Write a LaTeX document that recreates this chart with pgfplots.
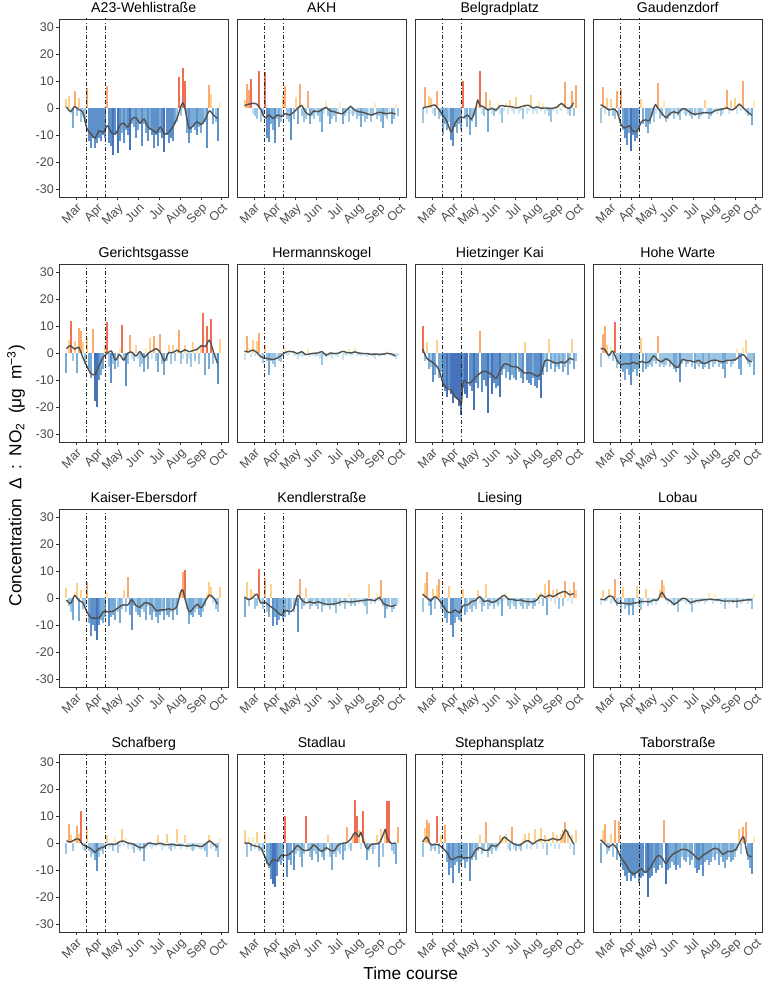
\documentclass[border=0pt]{standalone}
\usepackage{pgfplots}
\pgfplotsset{compat=1.18}
\usepackage{pgfplotstable}
\usepgfplotslibrary{groupplots}
\usetikzlibrary{calc}
\usepackage{fontspec}
\setmainfont{Liberation Sans}

\definecolor{lincol}{RGB}{80,80,80}
\definecolor{ca}{RGB}{50,100,180}
\definecolor{cb}{RGB}{76,132,196}
\definecolor{cc}{RGB}{106,162,211}
\definecolor{cd}{RGB}{146,192,226}
\definecolor{ce}{RGB}{196,226,241}
\definecolor{cf}{RGB}{255,233,168}
\definecolor{cg}{RGB}{253,204,128}
\definecolor{ch}{RGB}{250,160,95}
\definecolor{ci}{RGB}{238,95,65}
\pgfplotsset{
  vl/.style={color=black!85, line width=0.8pt, dash pattern=on 3pt off 1.6pt on 0.8pt off 1.6pt},
}

% ---------- bar (daily deviation) data ----------
\pgfplotstableread[row sep=\\]{d v\\ -14 3.5\\ -11 4.4\\ -8 -2\\ -5 -7.4\\ -2 6.5\\ 1 -3\\ 4 3.8\\ 7 -5\\ 10 -3\\ 13 -5\\ 16 7.6\\ 19 -12\\ 22 -14.8\\ 25 -11\\ 28 -14.8\\ 31 -13\\ 34 -11\\ 37 -12\\ 40 -10\\ 43 -11\\ 46 8.4\\ 49 -13\\ 52 -14\\ 55 -17.2\\ 58 -10\\ 61 -16.6\\ 64 -12\\ 67 -9\\ 70 -13\\ 73 -8\\ 76 -10\\ 79 -15.4\\ 82 -6\\ 85 -7\\ 88 -11\\ 91 -8\\ 94 -6\\ 97 -14.1\\ 100 -6\\ 103 -9\\ 106 -12\\ 109 -8\\ 112 -10\\ 115 -14.8\\ 118 -10\\ 121 -14.1\\ 124 -9\\ 127 -11\\ 130 -16\\ 133 -10\\ 136 -13\\ 139 -11\\ 142 -12\\ 145 -6\\ 148 -5\\ 151 11.7\\ 154 -3\\ 157 14.9\\ 160 10.2\\ 163 -9\\ 166 -12.9\\ 169 -9\\ 172 -7\\ 175 -8\\ 178 -10\\ 181 -7\\ 184 -9\\ 187 -6\\ 190 -5\\ 193 -14.8\\ 196 8.7\\ 199 5.4\\ 202 -6\\ 205 -5\\ 208 -12\\ 211 2\\}\barsA
\pgfplotstableread[row sep=\\]{d v\\ -14 3\\ -11 8.8\\ -8 6.6\\ -5 10.9\\ -2 -2\\ 1 -3\\ 4 -4\\ 7 13.9\\ 10 -5\\ 13 -3\\ 16 13.3\\ 19 -11\\ 22 -12.3\\ 25 -6\\ 28 -8\\ 31 -12.9\\ 34 -4\\ 37 -7\\ 40 -5\\ 43 4.8\\ 46 8.2\\ 49 -4\\ 52 -5\\ 55 -11.7\\ 58 -4\\ 61 4\\ 64 -6\\ 67 8.9\\ 70 -3\\ 73 -5\\ 76 -4\\ 79 6.5\\ 82 -6\\ 85 -3\\ 88 -4\\ 91 -2\\ 94 -3\\ 97 -5\\ 100 -8.7\\ 103 -2\\ 106 2.5\\ 109 -3\\ 112 -6\\ 115 -4\\ 118 -3\\ 121 -5\\ 124 -2\\ 127 2\\ 130 -6\\ 133 -3\\ 136 -2\\ 139 -5\\ 142 -2\\ 145 -3\\ 148 -2\\ 151 -4\\ 154 -3\\ 157 -6.8\\ 160 -3\\ 163 -5\\ 166 -4\\ 169 -2\\ 172 -5\\ 175 -3\\ 178 2\\ 181 -4\\ 184 -3\\ 187 -5\\ 190 -7.4\\ 193 -3\\ 196 -4\\ 199 -2\\ 202 -6\\ 205 -4\\ 208 1.5\\ 211 -3\\}\barsB
\pgfplotstableread[row sep=\\]{d v\\ -14 -5.6\\ -11 7.7\\ -8 -2\\ -5 4.5\\ -2 3.8\\ 1 -2\\ 4 -3\\ 7 6.2\\ 10 -4\\ 13 -3\\ 16 -9.9\\ 19 -6\\ 22 -8\\ 25 -5\\ 28 -11.7\\ 31 -13.9\\ 34 -7\\ 37 -9\\ 40 -6\\ 43 -8\\ 46 10\\ 49 -4\\ 52 -7\\ 55 -9.9\\ 58 -5\\ 61 -3\\ 64 -7\\ 67 2\\ 70 13.9\\ 73 -2\\ 76 -3\\ 79 6\\ 82 -8.7\\ 85 3\\ 88 -2\\ 91 -3\\ 94 -1.5\\ 97 2\\ 100 -2\\ 103 -5.6\\ 106 -1\\ 109 2\\ 112 -2\\ 115 3\\ 118 -1\\ 121 -2\\ 124 4\\ 127 -2\\ 130 -1\\ 133 -4\\ 136 1.5\\ 139 -2\\ 142 -1\\ 145 4.8\\ 148 -2\\ 151 -1\\ 154 -2\\ 157 2.5\\ 160 -1\\ 163 1.8\\ 166 -2\\ 169 -1\\ 172 -3\\ 175 -5\\ 178 -1\\ 181 1\\ 184 -2\\ 187 1.5\\ 190 -1\\ 193 2\\ 196 9.6\\ 199 -2\\ 202 -3\\ 205 6.2\\ 208 -3\\ 211 8.7\\}\barsC
\pgfplotstableread[row sep=\\]{d v\\ -14 -5.6\\ -11 7.8\\ -8 -2\\ -5 3.8\\ -2 -3\\ 1 3.5\\ 4 -3\\ 7 -4\\ 10 6.2\\ 13 -3\\ 16 7.2\\ 19 -8\\ 22 -11\\ 25 -13.5\\ 28 -9\\ 31 -15.7\\ 34 -10\\ 37 -12\\ 40 -11\\ 43 -8\\ 46 3.5\\ 49 -6\\ 52 -7\\ 55 -9.3\\ 58 -6\\ 61 -3\\ 64 -5\\ 67 -2\\ 70 9.3\\ 73 -4\\ 76 -3\\ 79 2.5\\ 82 -5\\ 85 -4\\ 88 -3\\ 91 -2\\ 94 -4\\ 97 -2\\ 100 -3\\ 103 -4.5\\ 106 -1\\ 109 -2\\ 112 -3\\ 115 -2\\ 118 -3\\ 121 -4\\ 124 -3\\ 127 -2\\ 130 -4\\ 133 -3\\ 136 -2\\ 139 3\\ 142 -2\\ 145 -4\\ 148 -3\\ 151 -2\\ 154 -1\\ 157 -2\\ 160 -1\\ 163 -3\\ 166 -2\\ 169 1\\ 172 6.6\\ 175 -2\\ 178 3\\ 181 -1\\ 184 3.8\\ 187 -2\\ 190 2\\ 193 -1\\ 196 9.9\\ 199 -2\\ 202 -3\\ 205 -2\\ 208 -6.2\\ 211 2.8\\}\barsD
\pgfplotstableread[row sep=\\]{d v\\ -14 -7.2\\ -11 5\\ -8 11.8\\ -5 -3\\ -2 4.5\\ 1 -7.4\\ 4 9.3\\ 7 8.4\\ 10 4\\ 13 -4\\ 16 5.5\\ 19 -6\\ 22 -9\\ 25 8.8\\ 28 -17.8\\ 31 -19.9\\ 34 -10\\ 37 -8\\ 40 -6\\ 43 3\\ 46 11.7\\ 49 -5\\ 52 -11.1\\ 55 -4\\ 58 -6\\ 61 -5\\ 64 2\\ 67 10.5\\ 70 -3\\ 73 -12\\ 76 -4\\ 79 6.6\\ 82 -2\\ 85 -3\\ 88 3\\ 91 -2\\ 94 -5\\ 97 -4\\ 100 -7\\ 103 2\\ 106 -6\\ 109 5.6\\ 112 -2\\ 115 6.2\\ 118 -3\\ 121 -7\\ 124 7.2\\ 127 -4\\ 130 -8\\ 133 -3\\ 136 3\\ 139 -4\\ 142 3\\ 145 -3\\ 148 2\\ 151 8.7\\ 154 -4\\ 157 -2\\ 160 3\\ 163 -4\\ 166 -2\\ 169 -5\\ 172 4\\ 175 -3\\ 178 2\\ 181 -4\\ 184 3\\ 187 14.8\\ 190 -8\\ 193 10.2\\ 196 -6\\ 199 12.7\\ 202 -4\\ 205 -2\\ 208 -11.3\\ 211 5.1\\}\barsE
\pgfplotstableread[row sep=\\]{d v\\ -14 -2.5\\ -11 6.2\\ -8 2\\ -5 -1.5\\ -2 5\\ 1 -1\\ 4 4.4\\ 7 7.4\\ 10 -2\\ 13 -3.5\\ 16 3\\ 19 -3\\ 22 -8\\ 25 -3\\ 28 -4\\ 31 -5\\ 34 -2\\ 37 -3\\ 40 -3.2\\ 43 1\\ 46 2.5\\ 49 -1\\ 52 -0.5\\ 55 1\\ 58 -1\\ 61 -0.5\\ 64 -2\\ 67 -1\\ 70 -1.5\\ 73 -1\\ 76 -0.5\\ 79 2\\ 82 -1.5\\ 85 -0.5\\ 88 -1\\ 91 -1.5\\ 94 -1\\ 97 -2\\ 100 -4.4\\ 103 -1\\ 106 -1.5\\ 109 -0.5\\ 112 -1\\ 115 -2\\ 118 -0.5\\ 121 -1\\ 124 -1.5\\ 127 1\\ 130 -2.5\\ 133 -0.5\\ 136 -1\\ 139 1.5\\ 142 -1\\ 145 -0.5\\ 148 2.5\\ 151 -1\\ 154 -0.5\\ 157 -1\\ 160 -0.5\\ 163 -1\\ 166 -1.5\\ 169 -0.5\\ 172 -1\\ 175 -1.5\\ 178 -2\\ 181 -0.5\\ 184 -1.5\\ 187 -1\\ 190 -0.5\\ 193 -1\\ 196 1\\ 199 -0.5\\ 202 -1\\ 205 -1.5\\ 208 -2.3\\ 211 -1\\}\barsF
\pgfplotstableread[row sep=\\]{d v\\ -14 10.2\\ -11 -3\\ -8 4\\ -5 -6\\ -2 -5\\ 1 -10.5\\ 4 -8\\ 7 4.8\\ 10 -9\\ 13 -7\\ 16 -12.3\\ 19 -14\\ 22 -16\\ 25 -13\\ 28 -15\\ 31 -18.4\\ 34 -16\\ 37 -17\\ 40 -19.6\\ 43 -22.7\\ 46 -13\\ 49 -15\\ 52 -16.5\\ 55 -12\\ 58 -14\\ 61 -20.9\\ 64 -11\\ 67 -13\\ 70 8.4\\ 73 -14.5\\ 76 -10\\ 79 -12\\ 82 -22\\ 85 -9\\ 88 -15\\ 91 -11\\ 94 -13\\ 97 -12\\ 100 -16\\ 103 -8\\ 106 -6\\ 109 -9\\ 112 -7\\ 115 -10\\ 118 -8\\ 121 -9\\ 124 -10\\ 127 -7\\ 130 -9\\ 133 -11\\ 136 4\\ 139 -10\\ 142 -11\\ 145 -11.7\\ 148 -9\\ 151 -12\\ 154 -13\\ 157 -10\\ 160 -16.6\\ 163 -8\\ 166 -5\\ 169 -7\\ 172 5.1\\ 175 -6\\ 178 -4\\ 181 -7\\ 184 -5\\ 187 -6\\ 190 -4\\ 193 -7\\ 196 -5\\ 199 -8\\ 202 -4\\ 205 5.1\\ 208 -6\\ 211 -3\\}\barsG
\pgfplotstableread[row sep=\\]{d v\\ -14 -5\\ -11 7\\ -8 9.9\\ -5 3\\ -2 -2\\ 1 2.5\\ 4 -3\\ 7 11.5\\ 10 -5.5\\ 13 -4\\ 16 -6\\ 19 -7\\ 22 -9.9\\ 25 -6\\ 28 -8\\ 31 -11.7\\ 34 -7\\ 37 -6\\ 40 -8.5\\ 43 -6\\ 46 5.7\\ 49 -7\\ 52 -6\\ 55 -5\\ 58 -4.5\\ 61 -5\\ 64 -3\\ 67 -4\\ 70 6.5\\ 73 -5\\ 76 -4\\ 79 -5\\ 82 -4.5\\ 85 -3\\ 88 -5\\ 91 -4\\ 94 -6\\ 97 -7\\ 100 -5\\ 103 -10.5\\ 106 -4\\ 109 -3\\ 112 -5\\ 115 -4\\ 118 -3\\ 121 -5\\ 124 -6\\ 127 -4\\ 130 -5\\ 133 -4\\ 136 -6\\ 139 -5\\ 142 -4\\ 145 -6\\ 148 -3\\ 151 -5\\ 154 -4\\ 157 -3\\ 160 -5\\ 163 -4\\ 166 -6\\ 169 -9.3\\ 172 -4\\ 175 -3\\ 178 -5\\ 181 -4\\ 184 -3\\ 187 2\\ 190 -6\\ 193 -8\\ 196 2.5\\ 199 5\\ 202 -4\\ 205 -5\\ 208 -3\\ 211 -8\\}\barsH
\pgfplotstableread[row sep=\\]{d v\\ -14 3.9\\ -11 -3\\ -8 -5\\ -5 -7.9\\ -2 2.5\\ 1 5.7\\ 4 -8.3\\ 7 3\\ 10 -4\\ 13 -3\\ 16 6.1\\ 19 -9.1\\ 22 -14\\ 25 -10\\ 28 -12\\ 31 -15.6\\ 34 -10\\ 37 -8\\ 40 -9\\ 43 -7\\ 46 2.5\\ 49 -10.4\\ 52 -7\\ 55 -6\\ 58 -8\\ 61 -5\\ 64 -9\\ 67 -4\\ 70 3\\ 73 -5\\ 76 7.9\\ 79 -6\\ 82 -11.6\\ 85 -3\\ 88 -5\\ 91 -6\\ 94 -7\\ 97 -4\\ 100 -5\\ 103 -8\\ 106 -3\\ 109 -6\\ 112 -8\\ 115 -5\\ 118 -7\\ 121 -9.1\\ 124 -6\\ 127 -5\\ 130 -8\\ 133 -6\\ 136 -7\\ 139 -5\\ 142 -8\\ 145 -4\\ 148 -6\\ 151 2.5\\ 154 3\\ 157 9.8\\ 160 10.6\\ 163 -4\\ 166 -9.5\\ 169 -6\\ 172 -7\\ 175 -5\\ 178 -4\\ 181 -6\\ 184 -7\\ 187 -5\\ 190 -3\\ 193 2\\ 196 5.9\\ 199 4\\ 202 -2\\ 205 -4\\ 208 -5\\ 211 4.1\\}\barsI
\pgfplotstableread[row sep=\\]{d v\\ -14 -7.1\\ -11 5.9\\ -8 -3\\ -5 3.5\\ -2 2.5\\ 1 -4\\ 4 -3\\ 7 10.7\\ 10 -2\\ 13 -4\\ 16 7.1\\ 19 -5\\ 22 -7\\ 25 5.1\\ 28 -10.4\\ 31 -7\\ 34 -10\\ 37 -8\\ 40 -6\\ 43 -8\\ 46 -7\\ 49 -5\\ 52 -6\\ 55 -4\\ 58 -5\\ 61 -3\\ 64 -12.6\\ 67 7.2\\ 70 -4\\ 73 -3\\ 76 3.7\\ 79 -2\\ 82 -4\\ 85 -3\\ 88 -2\\ 91 -3\\ 94 -4\\ 97 -2\\ 100 -5\\ 103 -3\\ 106 -2\\ 109 -3\\ 112 -4\\ 115 -2\\ 118 -3\\ 121 -5.5\\ 124 -2\\ 127 -3\\ 130 -2\\ 133 -4\\ 136 -2\\ 139 2\\ 142 -3\\ 145 -2\\ 148 -3\\ 151 -1\\ 154 -2\\ 157 -1.5\\ 160 -2\\ 163 -3\\ 166 -5.9\\ 169 5.4\\ 172 -2\\ 175 -1\\ 178 -2\\ 181 2\\ 184 -1\\ 187 6.7\\ 190 -3\\ 193 -7.3\\ 196 -4\\ 199 -3\\ 202 -5\\ 205 -4\\ 208 -3\\ 211 -2\\}\barsJ
\pgfplotstableread[row sep=\\]{d v\\ -14 -4.9\\ -11 5.7\\ -8 9.8\\ -5 -3\\ -2 -6.1\\ 1 3.5\\ 4 -4\\ 7 4.9\\ 10 7.3\\ 13 -4\\ 16 -5\\ 19 -7.3\\ 22 -9.1\\ 25 4.5\\ 28 -10\\ 31 -14.4\\ 34 -9\\ 37 -7\\ 40 -8\\ 43 -8.5\\ 46 3.5\\ 49 -6\\ 52 -5\\ 55 -4\\ 58 -5\\ 61 -3\\ 64 -4\\ 67 3\\ 70 -2\\ 73 -5\\ 76 -3\\ 79 5.2\\ 82 -4\\ 85 -3\\ 88 -2\\ 91 -4\\ 94 -2\\ 97 -3\\ 100 -2\\ 103 -6.7\\ 106 -1\\ 109 2\\ 112 -3\\ 115 -4\\ 118 -2\\ 121 -3\\ 124 -4\\ 127 -2\\ 130 -3\\ 133 -4\\ 136 -2\\ 139 -4\\ 142 -3\\ 145 -2\\ 148 -4\\ 151 -3\\ 154 2\\ 157 -2\\ 160 2.5\\ 163 -3\\ 166 5.4\\ 169 -6.1\\ 172 6.7\\ 175 -1\\ 178 3\\ 181 -2\\ 184 3.5\\ 187 -4\\ 190 2\\ 193 -3\\ 196 6.3\\ 199 -1\\ 202 3\\ 205 -2\\ 208 6\\ 211 3\\}\barsK
\pgfplotstableread[row sep=\\]{d v\\ -14 -2.5\\ -11 3\\ -8 -1.5\\ -5 -1\\ -2 3.5\\ 1 -2\\ 4 -1.5\\ 7 7.3\\ 10 -3\\ 13 -2\\ 16 -5.5\\ 19 4\\ 22 -4\\ 25 -3\\ 28 -6.2\\ 31 -3\\ 34 -6\\ 37 -2.5\\ 40 4.5\\ 43 -3\\ 46 -4.5\\ 49 -2\\ 52 3.5\\ 55 -3\\ 58 -2\\ 61 -2.5\\ 64 -1.5\\ 67 -2.5\\ 70 -1\\ 73 3\\ 76 6.6\\ 79 5\\ 82 -1\\ 85 -2\\ 88 -1.5\\ 91 -2.5\\ 94 -3\\ 97 -2\\ 100 -4.9\\ 103 -1\\ 106 -1.5\\ 109 -1\\ 112 -2\\ 115 -1.5\\ 118 -2.5\\ 121 -5.1\\ 124 -2\\ 127 -1\\ 130 -2\\ 133 -1.5\\ 136 -1\\ 139 -2\\ 142 -1.5\\ 145 2\\ 148 -1\\ 151 -2\\ 154 1.5\\ 157 -1.5\\ 160 -1\\ 163 -2\\ 166 -1.5\\ 169 -3.9\\ 172 -1.5\\ 175 -2\\ 178 -1\\ 181 -2\\ 184 -1.5\\ 187 -3.5\\ 190 -1\\ 193 -2\\ 196 -1.5\\ 199 -1\\ 202 -2\\ 205 -1\\ 208 -4.1\\ 211 1.5\\}\barsL
\pgfplotstableread[row sep=\\]{d v\\ -14 -4\\ -11 7.3\\ -8 3\\ -5 -3\\ -2 2.5\\ 1 6.3\\ 4 3.5\\ 7 12.1\\ 10 -2.5\\ 13 -3\\ 16 5.7\\ 19 -3\\ 22 -5.2\\ 25 -4\\ 28 -6\\ 31 -10.1\\ 34 -5\\ 37 -3\\ 40 -4\\ 43 -2\\ 46 3\\ 49 -2\\ 52 -1.5\\ 55 -3\\ 58 2.5\\ 61 -3.5\\ 64 -1.5\\ 67 5.4\\ 70 -1\\ 73 2\\ 76 -2\\ 79 -1\\ 82 -2\\ 85 -3.5\\ 88 -1.5\\ 91 -2.5\\ 94 -3\\ 97 -2\\ 100 -6.5\\ 103 -2\\ 106 -1\\ 109 -1.5\\ 112 -2\\ 115 -1\\ 118 -1.5\\ 121 3\\ 124 -1\\ 127 -2.5\\ 130 -1.5\\ 133 3.5\\ 136 -2\\ 139 -3\\ 142 -1.5\\ 145 -2\\ 148 5.4\\ 151 -1.5\\ 154 -2\\ 157 -1\\ 160 3\\ 163 -2\\ 166 -1.5\\ 169 -2.5\\ 172 -3\\ 175 -2\\ 178 -1.5\\ 181 -2\\ 184 -2.5\\ 187 -2\\ 190 -3\\ 193 -5.2\\ 196 3\\ 199 -2\\ 202 -1.5\\ 205 -3\\ 208 -5.2\\ 211 2\\}\barsM
\pgfplotstableread[row sep=\\]{d v\\ -14 5.1\\ -11 -5.2\\ -8 2.5\\ -5 -3\\ -2 2.5\\ 1 -2\\ 4 4\\ 7 -3\\ 10 -2.5\\ 13 -3\\ 16 4\\ 19 -7.7\\ 22 -9\\ 25 -13.2\\ 28 -15\\ 31 -16.2\\ 34 -12\\ 37 -7\\ 40 -8\\ 43 -6\\ 46 10.2\\ 49 -12.6\\ 52 -6\\ 55 -8\\ 58 -10\\ 61 -4\\ 64 -3\\ 67 -5\\ 70 -8.9\\ 73 -4\\ 76 10\\ 79 -3\\ 82 -5\\ 85 -6\\ 88 -3\\ 91 -4\\ 94 -7\\ 97 -3\\ 100 -5\\ 103 -6\\ 106 -3\\ 109 3\\ 112 -5\\ 115 -9.8\\ 118 -4\\ 121 -5\\ 124 -3\\ 127 -4\\ 130 -6\\ 133 -3\\ 136 6\\ 139 -2\\ 142 -3\\ 145 3\\ 148 16.1\\ 151 10\\ 154 5\\ 157 -2\\ 160 11.8\\ 163 2\\ 166 -6\\ 169 -3\\ 172 -2\\ 175 -4\\ 178 -2\\ 181 3\\ 184 -8.9\\ 187 5.4\\ 190 -5\\ 193 4\\ 196 15.5\\ 199 15.5\\ 202 -3\\ 205 -4\\ 208 -7.7\\ 211 6\\}\barsN
\pgfplotstableread[row sep=\\]{d v\\ -14 -5.1\\ -11 5.7\\ -8 8.5\\ -5 7.4\\ -2 -3\\ 1 -2\\ 4 -3\\ 7 10.1\\ 10 -4\\ 13 3\\ 16 -3\\ 19 6.6\\ 22 -7\\ 25 -11.6\\ 28 -9\\ 31 -14.6\\ 34 -8\\ 37 -7\\ 40 -10.9\\ 43 -8\\ 46 -6\\ 49 -9\\ 52 -7\\ 55 -13.8\\ 58 -6\\ 61 -5\\ 64 -6\\ 67 -3\\ 70 3\\ 73 -4\\ 76 -3\\ 79 7.9\\ 82 -5\\ 85 -3\\ 88 -4\\ 91 -2\\ 94 -3\\ 97 -2\\ 100 3\\ 103 2\\ 106 2.5\\ 109 3.5\\ 112 -2\\ 115 -3\\ 118 6\\ 121 -2\\ 124 -3\\ 127 -2\\ 130 -3\\ 133 2\\ 136 3.5\\ 139 -2\\ 142 3.8\\ 145 -2\\ 148 -1\\ 151 5.4\\ 154 -2\\ 157 2\\ 160 5.5\\ 163 -2\\ 166 3\\ 169 -4.3\\ 172 2\\ 175 -1\\ 178 4\\ 181 -2\\ 184 3\\ 187 -2\\ 190 3.5\\ 193 5\\ 196 8\\ 199 4.5\\ 202 -2\\ 205 3\\ 208 -4.3\\ 211 5.1\\}\barsO
\pgfplotstableread[row sep=\\]{d v\\ -14 -7.2\\ -11 5\\ -8 7.2\\ -5 -4\\ -2 -3\\ 1 3.5\\ 4 -5\\ 7 8.7\\ 10 -6\\ 13 8.3\\ 16 -8\\ 19 -10\\ 22 -12\\ 25 -13.9\\ 28 -11\\ 31 -14\\ 34 -12\\ 37 -13\\ 40 -11\\ 43 -14.5\\ 46 -13\\ 49 -12\\ 52 -11\\ 55 -19.8\\ 58 -13\\ 61 -12\\ 64 -9\\ 67 -11\\ 70 -10\\ 73 -8\\ 76 -9\\ 79 8.7\\ 82 -15.1\\ 85 -10\\ 88 -9\\ 91 -7\\ 94 -8\\ 97 -10\\ 100 -8\\ 103 -9\\ 106 -5\\ 109 -6\\ 112 -7\\ 115 -5\\ 118 -8\\ 121 -6\\ 124 -9\\ 127 -11\\ 130 -10\\ 133 -8\\ 136 -12.1\\ 139 -7\\ 142 -6\\ 145 -8\\ 148 -7\\ 151 -5\\ 154 -6\\ 157 -4\\ 160 -8\\ 163 -5\\ 166 -7\\ 169 -9\\ 172 -6\\ 175 -5\\ 178 -7\\ 181 -6\\ 184 -5\\ 187 -3\\ 190 5.4\\ 193 -4\\ 196 6.2\\ 199 8\\ 202 -6\\ 205 -9\\ 208 -11.5\\ 211 2.5\\}\barsP

% ---------- smoothed line data ----------
\pgfplotstableread[row sep=\\]{d v\\ -14 0.5\\ -8 -1.2\\ -2 0.6\\ 4 -0.5\\ 10 -1.5\\ 16 -7.5\\ 22 -9.5\\ 28 -11\\ 34 -8.3\\ 40 -9\\ 46 -6.5\\ 52 -9\\ 58 -9.5\\ 64 -6.5\\ 70 -5.5\\ 76 -7\\ 82 -4\\ 88 -3.5\\ 94 -5.5\\ 100 -4\\ 106 -7\\ 112 -8\\ 118 -9\\ 124 -7\\ 130 -9.5\\ 136 -9\\ 142 -7\\ 148 -4\\ 154 0.5\\ 157 2\\ 160 0\\ 166 -7.2\\ 172 -6.5\\ 178 -5\\ 184 -6\\ 190 -4\\ 196 -1\\ 202 -2.5\\ 208 -3.8\\}\lineA
\pgfplotstableread[row sep=\\]{d v\\ -14 1\\ -8 1.5\\ -2 1.8\\ 4 1.5\\ 10 -0.5\\ 16 -3.5\\ 22 -2.5\\ 28 -3.8\\ 34 -2.5\\ 40 -3\\ 46 -2\\ 52 -2.5\\ 58 -1.5\\ 64 0\\ 70 1\\ 76 -1.5\\ 82 -2.5\\ 88 -1\\ 94 -1.3\\ 100 -0.5\\ 106 0.3\\ 112 -1\\ 118 -1.3\\ 124 -1.8\\ 130 -2\\ 136 -0.7\\ 142 0.7\\ 148 -0.7\\ 154 -1.3\\ 160 -1.5\\ 166 -2\\ 172 -2.5\\ 178 -2\\ 184 -1.5\\ 190 -1.8\\ 196 -2\\ 202 -1.7\\ 208 -2.2\\}\lineB
\pgfplotstableread[row sep=\\]{d v\\ -14 0\\ -8 0.5\\ -2 0.8\\ 4 1.2\\ 10 -0.5\\ 16 -2.6\\ 22 -5\\ 28 -8.7\\ 34 -5.5\\ 40 -3.5\\ 46 -3.5\\ 52 -2.5\\ 58 -4\\ 64 0\\ 67 2.9\\ 70 1.2\\ 76 0.5\\ 82 -0.7\\ 88 0\\ 94 -0.7\\ 100 0.9\\ 106 0.8\\ 112 0.7\\ 118 0.5\\ 124 0.1\\ 130 0.5\\ 136 0.9\\ 142 1.1\\ 148 0.1\\ 154 0.5\\ 160 0\\ 166 0.1\\ 172 0\\ 178 0\\ 184 0.5\\ 190 1.8\\ 196 0.5\\ 202 0\\ 208 2\\}\lineC
\pgfplotstableread[row sep=\\]{d v\\ -14 1.3\\ -8 0.5\\ -2 -0.6\\ 4 -0.3\\ 10 -1.2\\ 16 -6\\ 22 -7.3\\ 28 -6.5\\ 34 -8.5\\ 40 -8.3\\ 46 -5\\ 52 -4.3\\ 58 -4.5\\ 64 0\\ 67 1.3\\ 70 0\\ 76 -1.8\\ 82 -3.5\\ 88 -2\\ 94 -1.3\\ 100 -1.8\\ 106 -0.2\\ 112 -0.5\\ 118 -1.6\\ 124 -2.2\\ 130 -2\\ 136 -1.7\\ 142 -1.6\\ 148 -1.8\\ 154 -0.9\\ 160 -0.5\\ 166 -0.3\\ 172 0.1\\ 178 -0.6\\ 184 0\\ 190 1.5\\ 196 0\\ 202 -1.3\\ 208 -2.6\\}\lineD
\pgfplotstableread[row sep=\\]{d v\\ -14 1.7\\ -8 2.8\\ -2 1.5\\ 4 2.2\\ 10 -1.5\\ 16 -4.8\\ 22 -7.5\\ 28 -7.8\\ 34 -4.5\\ 40 -1.5\\ 46 0\\ 52 0.8\\ 58 -2.5\\ 64 -0.5\\ 70 -2.5\\ 76 0\\ 82 0.4\\ 88 -1\\ 94 0.6\\ 100 -1.5\\ 106 0\\ 112 0.9\\ 118 1.7\\ 124 0.2\\ 130 -2.8\\ 136 0.2\\ 142 0.2\\ 148 1.1\\ 154 0.4\\ 160 1.3\\ 166 0.6\\ 172 1\\ 178 1.4\\ 184 2.8\\ 190 2.5\\ 196 4.8\\ 202 0.5\\ 208 -3.8\\}\lineE
\pgfplotstableread[row sep=\\]{d v\\ -14 0.8\\ -8 0.5\\ -2 1.2\\ 4 0.3\\ 10 -1.3\\ 16 -1.8\\ 22 -2.1\\ 28 -2.3\\ 34 -1.8\\ 40 -0.8\\ 46 0.3\\ 52 0.7\\ 58 0.5\\ 64 -0.1\\ 70 0.6\\ 76 -0.5\\ 82 -0.2\\ 88 0\\ 94 0.1\\ 100 0.6\\ 106 -0.7\\ 112 0.1\\ 118 -0.1\\ 124 0\\ 130 0.7\\ 136 0.3\\ 142 0.1\\ 148 0.5\\ 154 0.1\\ 160 -0.1\\ 166 -0.1\\ 172 -0.4\\ 178 -0.3\\ 184 -0.4\\ 190 -0.3\\ 196 0\\ 202 -0.3\\ 208 -1\\}\lineF
\pgfplotstableread[row sep=\\]{d v\\ -14 1.7\\ -8 -1.8\\ -2 -2.9\\ 4 -4\\ 10 -6.1\\ 16 -11\\ 22 -12.9\\ 28 -13.7\\ 34 -16.2\\ 40 -17.4\\ 43 -18.5\\ 46 -10.5\\ 52 -11\\ 58 -10.6\\ 64 -8.8\\ 70 -7.5\\ 76 -6.6\\ 82 -7.1\\ 88 -7.9\\ 94 -9.3\\ 100 -6.5\\ 106 -4\\ 112 -4.2\\ 118 -5\\ 124 -5\\ 130 -6\\ 136 -7.3\\ 142 -7.2\\ 148 -7.6\\ 154 -8.5\\ 160 -7.4\\ 166 -2.8\\ 172 -2.6\\ 178 -3.3\\ 184 -3.7\\ 190 -3.2\\ 196 -3.5\\ 202 -1.9\\ 208 -2.5\\}\lineG
\pgfplotstableread[row sep=\\]{d v\\ -14 1.7\\ -8 1.5\\ -2 -0.8\\ 4 0.8\\ 10 -2.6\\ 16 -4.2\\ 22 -3.8\\ 28 -4\\ 34 -3.3\\ 40 -3.9\\ 46 -3\\ 52 -3.5\\ 58 -3\\ 64 -1\\ 70 -2.5\\ 76 -3.1\\ 82 -2\\ 88 -3\\ 94 -4.6\\ 100 -5.2\\ 106 -2.3\\ 112 -2.7\\ 118 -2.8\\ 124 -3.2\\ 130 -2.6\\ 136 -3.7\\ 142 -3.5\\ 148 -2.8\\ 154 -2.5\\ 160 -2.9\\ 166 -3.2\\ 172 -2.6\\ 178 -2.6\\ 184 -2.4\\ 190 -1.2\\ 196 -0.5\\ 202 -2.4\\ 208 -3.2\\}\lineH
\pgfplotstableread[row sep=\\]{d v\\ -14 -0.6\\ -8 -1.9\\ -2 1\\ 4 -0.8\\ 10 -1.6\\ 16 -5\\ 22 -7.2\\ 28 -7.3\\ 34 -7.2\\ 40 -5\\ 46 -5\\ 52 -4.9\\ 58 -4.3\\ 64 -3.1\\ 70 -2.4\\ 76 -2.5\\ 82 -0.6\\ 88 -2.6\\ 94 -3.3\\ 100 -1.8\\ 106 -1.8\\ 112 -2.6\\ 118 -4.6\\ 124 -4.3\\ 130 -4.3\\ 136 -3.9\\ 142 -4.2\\ 148 -3.1\\ 154 2.3\\ 157 3\\ 160 0\\ 166 -4.9\\ 172 -3.8\\ 178 -2.2\\ 184 -3.5\\ 190 -1.1\\ 196 1.2\\ 202 0.2\\ 208 -2.2\\}\lineI
\pgfplotstableread[row sep=\\]{d v\\ -14 0.5\\ -8 -0.5\\ -2 0.2\\ 4 1.5\\ 10 -1.7\\ 16 -1.5\\ 22 -2.6\\ 28 -3.7\\ 34 -5\\ 40 -6.3\\ 46 -4.5\\ 52 -4.9\\ 58 -4.1\\ 64 1\\ 70 -0.6\\ 76 -1.7\\ 82 -1.3\\ 88 -1.8\\ 94 -1.3\\ 100 -1.8\\ 106 -2.2\\ 112 -2.2\\ 118 -2.1\\ 124 -1.7\\ 130 -1.2\\ 136 -1.2\\ 142 -1.4\\ 148 -1.2\\ 154 -1\\ 160 -0.8\\ 166 -0.6\\ 172 -0.6\\ 178 -0.9\\ 184 0.3\\ 190 -1.9\\ 196 -2.6\\ 202 -3\\ 208 -2.5\\}\lineJ
\pgfplotstableread[row sep=\\]{d v\\ -14 1.5\\ -8 0.3\\ -2 -0.9\\ 4 0.6\\ 10 -0.5\\ 16 -2.7\\ 22 -4.9\\ 28 -5.3\\ 34 -4.3\\ 40 -5.3\\ 46 -2.6\\ 52 -2.5\\ 58 -1.2\\ 64 -0.8\\ 70 0.6\\ 76 -1.2\\ 82 -0.8\\ 88 -1.5\\ 94 -1\\ 100 0.1\\ 106 1.1\\ 112 -0.3\\ 118 -0.4\\ 124 -0.8\\ 130 -0.6\\ 136 -1.1\\ 142 -1.3\\ 148 -1.3\\ 154 -0.6\\ 160 1.2\\ 166 0.3\\ 172 1.2\\ 178 0.6\\ 184 1.5\\ 190 2.2\\ 196 2.5\\ 202 1.3\\ 208 1.8\\}\lineK
\pgfplotstableread[row sep=\\]{d v\\ -14 -0.3\\ -8 -0.5\\ -2 0.8\\ 4 0.5\\ 10 -1.8\\ 16 -1.7\\ 22 -1.9\\ 28 -2.1\\ 34 -1.8\\ 40 -1.6\\ 46 -1.2\\ 52 -1.2\\ 58 -1.3\\ 64 -0.6\\ 70 -0.6\\ 76 2.1\\ 82 -0.1\\ 88 -0.9\\ 94 -2.2\\ 100 -1.3\\ 106 0\\ 112 -0.3\\ 118 -1.6\\ 124 -1.1\\ 130 -0.8\\ 136 -0.6\\ 142 -0.5\\ 148 -0.3\\ 154 -0.6\\ 160 -0.6\\ 166 -1\\ 172 -1\\ 178 -1\\ 184 -1.1\\ 190 -1\\ 196 -0.7\\ 202 -0.6\\ 208 -0.6\\}\lineL
\pgfplotstableread[row sep=\\]{d v\\ -14 0.9\\ -8 0.5\\ -2 1.3\\ 4 1.6\\ 10 -0.5\\ 16 -1.2\\ 22 -2\\ 28 -3.3\\ 34 -1.9\\ 40 -1.5\\ 46 -0.5\\ 52 -0.3\\ 58 -0.4\\ 64 0.6\\ 70 0.8\\ 76 0.1\\ 82 -0.1\\ 88 -0.8\\ 94 -1.6\\ 100 -1.4\\ 106 0.1\\ 112 -0.1\\ 118 -0.3\\ 124 0\\ 130 -0.5\\ 136 -0.5\\ 142 -0.4\\ 148 -0.7\\ 154 -0.7\\ 160 -0.9\\ 166 -1\\ 172 -0.7\\ 178 -0.9\\ 184 -1.2\\ 190 -0.4\\ 196 0.9\\ 202 -0.2\\ 208 -1.5\\}\lineM
\pgfplotstableread[row sep=\\]{d v\\ -14 0\\ -8 0.1\\ -2 -0.8\\ 4 -1.1\\ 10 -1.8\\ 16 -5\\ 22 -8.1\\ 28 -5.9\\ 34 -6.5\\ 40 -4.4\\ 46 -4.5\\ 52 -4\\ 58 -2.6\\ 64 -0.8\\ 70 -2.2\\ 76 -2.7\\ 82 -2.2\\ 88 -0.6\\ 94 -2\\ 100 -3\\ 106 -1.6\\ 112 -2.6\\ 118 -2.7\\ 124 -0.5\\ 130 0\\ 136 0.2\\ 142 1.5\\ 148 3.9\\ 154 2.5\\ 157 4\\ 160 1.5\\ 166 -2\\ 172 -0.4\\ 178 -0.2\\ 184 0.1\\ 190 3.3\\ 193 5.1\\ 196 2\\ 202 -0.1\\ 208 0.2\\}\lineN
\pgfplotstableread[row sep=\\]{d v\\ -14 0.4\\ -8 2.3\\ -2 -0.5\\ 4 -0.4\\ 10 -0.6\\ 16 -1.9\\ 22 -3.5\\ 28 -6\\ 34 -5.5\\ 40 -4.9\\ 46 -5.4\\ 52 -5.4\\ 58 -5\\ 64 -2.5\\ 70 -1.6\\ 76 -2.5\\ 82 -2.5\\ 88 -0.7\\ 94 -1.2\\ 100 0.3\\ 106 2.3\\ 112 1.2\\ 118 0.1\\ 124 -0.6\\ 130 -0.6\\ 136 0.6\\ 142 0.9\\ 148 -0.2\\ 154 0.8\\ 160 1.4\\ 166 1\\ 172 1.2\\ 178 1.8\\ 184 1.2\\ 190 1.8\\ 196 4.9\\ 202 2.5\\ 208 -0.2\\}\lineO
\pgfplotstableread[row sep=\\]{d v\\ -14 1.3\\ -8 -0.2\\ -2 -1.5\\ 4 -0.3\\ 10 -2\\ 16 -5.4\\ 22 -7.3\\ 28 -9.9\\ 34 -11.3\\ 40 -10.6\\ 46 -9.4\\ 52 -10.8\\ 58 -9.4\\ 64 -6.8\\ 70 -4.6\\ 76 -5.2\\ 82 -7.5\\ 88 -5.2\\ 94 -3.7\\ 100 -3\\ 106 -2.2\\ 112 -2.3\\ 118 -3.2\\ 124 -4.5\\ 130 -6\\ 136 -4.4\\ 142 -3.6\\ 148 -2.6\\ 154 -1.8\\ 160 -2.4\\ 166 -4.1\\ 172 -3\\ 178 -3\\ 184 -2.4\\ 190 0\\ 196 2.3\\ 202 -4.3\\ 208 -4.8\\}\lineP

% one colour class of the bars: table, colour, lower, upper
\newcommand{\cls}[4]{%
  \addplot[ycomb, no markers, line width=1.5pt, line cap=butt, color=#2, opacity=0.9,
    restrict expr to domain={\thisrow{v}}{#3:#4}] table[x=d, y=v] {#1};}

\newcommand{\panel}[4]{%
  \nextgroupplot[title={#1},#4]
  \cls{#2}{ce}{-2.99}{-0.01}
  \cls{#2}{cd}{-5.99}{-3}
  \cls{#2}{cc}{-9.99}{-6}
  \cls{#2}{cb}{-14.99}{-10}
  \cls{#2}{ca}{-100}{-15}
  \cls{#2}{cf}{0}{2.99}
  \cls{#2}{cg}{3}{5.99}
  \cls{#2}{ch}{6}{9.99}
  \cls{#2}{ci}{10}{100}
  \addplot[smooth, line width=1.05pt, color=lincol] table[x=d, y=v] {#3};
  \addplot[vl] coordinates {(15,-40) (15,40)};
  \addplot[vl] coordinates {(43,-40) (43,40)};
}

\begin{document}
\begin{tikzpicture}
\begin{groupplot}[
  group style={group name=G, group size=4 by 4,
    horizontal sep=6.45pt, vertical sep=49.9pt},
  scale only axis, width=127.1pt, height=133.9pt,
  xmin=-25, xmax=224, ymin=-33, ymax=33,
  xtick={0,31,61,92,122,153,184,214},
  xticklabels={Mar,Apr,May,Jun,Jul,Aug,Sep,Oct},
  ytick={-30,-20,-10,0,10,20,30},
  tick align=outside, tick pos=left,
  major tick length=2.2pt,
  tick style={color=black!80, line width=0.5pt},
  axis line style={color=black!80, line width=0.55pt},
  ticklabel style={font=\fontsize{9.4}{10}\selectfont, color=black!70},
  xticklabel style={rotate=45, anchor=north east, inner sep=1pt},
  yticklabel style={inner sep=1.5pt},
  /pgf/number format/assume math mode=true,
  title style={font=\fontsize{10.6}{12}\selectfont, anchor=base, at={(0.5,1)}, yshift=-1pt, inner sep=0pt},
]
\panel{A23-Wehlistraße}{\barsA}{\lineA}{}
\panel{AKH}{\barsB}{\lineB}{ytick=\empty}
\panel{Belgradplatz}{\barsC}{\lineC}{ytick=\empty}
\panel{Gaudenzdorf}{\barsD}{\lineD}{ytick=\empty}
\panel{Gerichtsgasse}{\barsE}{\lineE}{}
\panel{Hermannskogel}{\barsF}{\lineF}{ytick=\empty}
\panel{Hietzinger Kai}{\barsG}{\lineG}{ytick=\empty}
\panel{Hohe Warte}{\barsH}{\lineH}{ytick=\empty}
\panel{Kaiser-Ebersdorf}{\barsI}{\lineI}{}
\panel{Kendlerstraße}{\barsJ}{\lineJ}{ytick=\empty}
\panel{Liesing}{\barsK}{\lineK}{ytick=\empty}
\panel{Lobau}{\barsL}{\lineL}{ytick=\empty}
\panel{Schafberg}{\barsM}{\lineM}{}
\panel{Stadlau}{\barsN}{\lineN}{ytick=\empty}
\panel{Stephansplatz}{\barsO}{\lineO}{ytick=\empty}
\panel{Taborstraße}{\barsP}{\lineP}{ytick=\empty}
\end{groupplot}
\pgfresetboundingbox
\path[use as bounding box] ([shift={(-44.25pt,14.25pt)}]G c1r1.north west) rectangle ([shift={(1.3pt,-40.1pt)}]G c4r4.south east);
\node[rotate=90, font=\fontsize{13}{15}\selectfont] at ($(G c1r1.north west)!0.5!(G c1r4.south west)+(-32.25pt,0)$) {Concentration\enspace Δ\enspace:\enspace NO\textsubscript{2}\enspace(μg\enspace m\textsuperscript{−3})};
\node[font=\fontsize{13}{15}\selectfont, anchor=base] at ($(G c1r4.south west)!0.5!(G c4r4.south east)+(0,-34.9pt)$) {Time course};
\end{tikzpicture}
\end{document}
